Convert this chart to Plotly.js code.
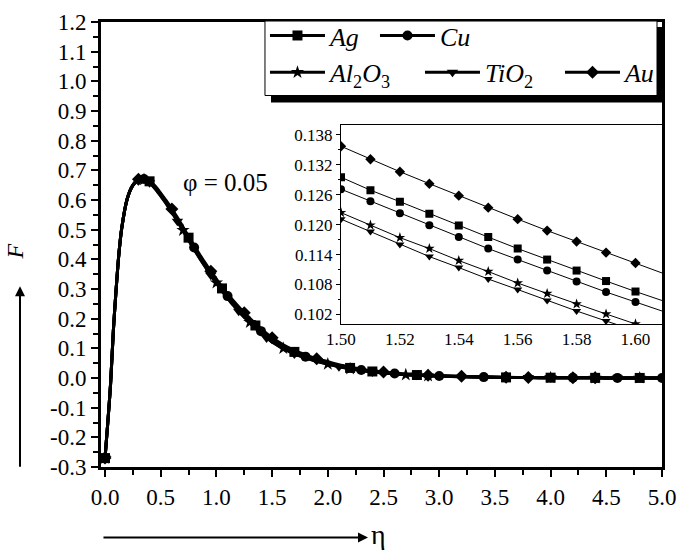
<!DOCTYPE html>
<html>
<head>
<meta charset="utf-8">
<script src="https://cdn.plot.ly/plotly-3.0.1.min.js"></script>
<style>html,body{margin:0;padding:0;background:#fff;}</style>
</head>
<body>
<div id="chart" style="width:682px;height:556px;"></div>
<script>
// ---------- DATA ----------
const seriesNames = ['<i>Ag</i>', '<i>Cu</i>', '<i>Al</i><sub>2</sub><i>O</i><sub>3</sub>', '<i>TiO</i><sub>2</sub>', '<i>Au</i>'];

const eta = [0, 0.025, 0.05, 0.075, 0.1, 0.125, 0.15, 0.2, 0.25, 0.3,
  0.35, 0.4, 0.45, 0.5, 0.55, 0.6, 0.65, 0.7, 0.75, 0.8,
  0.85, 0.9, 0.95, 1.0, 1.05, 1.1, 1.15, 1.2, 1.25, 1.3,
  1.35, 1.4, 1.45, 1.5, 1.6, 1.7, 1.8, 1.9, 2.0, 2.1,
  2.2, 2.3, 2.4, 2.5, 2.6, 2.7, 2.8, 2.9, 3.0, 3.2,
  3.4, 3.6, 3.8, 4.0, 4.2, 4.4, 4.6, 4.8, 5.0];

const fAg = [-0.270, -0.150, -0.020, 0.160, 0.300, 0.420, 0.505, 0.605, 0.650, 0.669,
  0.672, 0.663, 0.644, 0.620, 0.594, 0.567, 0.537, 0.505, 0.473, 0.442,
  0.412, 0.383, 0.355, 0.328, 0.302, 0.278, 0.255, 0.234, 0.214, 0.195,
  0.177, 0.160, 0.144, 0.1295, 0.1066, 0.088, 0.073, 0.061, 0.051, 0.042,
  0.034, 0.027, 0.022, 0.018, 0.015, 0.012, 0.010, 0.008, 0.007, 0.005,
  0.003, 0.002, 0.0015, 0.001, 0.0008, 0.0005, 0.0003, 0.0002, 0.0001];

const fCu = [-0.270, -0.150, -0.020, 0.160, 0.300, 0.420, 0.505, 0.605, 0.650, 0.669,
  0.671, 0.662, 0.643, 0.619, 0.593, 0.565, 0.535, 0.503, 0.471, 0.440,
  0.410, 0.381, 0.353, 0.326, 0.300, 0.276, 0.253, 0.232, 0.212, 0.193,
  0.175, 0.158, 0.142, 0.127, 0.1045, 0.086, 0.072, 0.060, 0.050, 0.041,
  0.033, 0.027, 0.022, 0.018, 0.015, 0.012, 0.010, 0.008, 0.007, 0.005,
  0.003, 0.002, 0.0015, 0.001, 0.0008, 0.0005, 0.0003, 0.0002, 0.0001];

const fAl = [-0.270, -0.150, -0.020, 0.160, 0.300, 0.420, 0.505, 0.604, 0.649, 0.668,
  0.669, 0.659, 0.639, 0.615, 0.589, 0.560, 0.530, 0.498, 0.466, 0.435,
  0.405, 0.376, 0.348, 0.321, 0.295, 0.271, 0.248, 0.227, 0.207, 0.188,
  0.170, 0.153, 0.137, 0.1224, 0.1001, 0.082, 0.068, 0.057, 0.047, 0.039,
  0.031, 0.026, 0.021, 0.017, 0.014, 0.011, 0.009, 0.0075, 0.0065, 0.0045,
  0.003, 0.002, 0.0014, 0.001, 0.0007, 0.0005, 0.0003, 0.0002, 0.0001];

const fTi = [-0.270, -0.150, -0.020, 0.160, 0.300, 0.420, 0.505, 0.604, 0.648, 0.667,
  0.668, 0.658, 0.638, 0.613, 0.587, 0.558, 0.528, 0.496, 0.464, 0.433,
  0.403, 0.374, 0.346, 0.319, 0.293, 0.269, 0.246, 0.225, 0.205, 0.186,
  0.168, 0.151, 0.135, 0.121, 0.0987, 0.081, 0.067, 0.056, 0.046, 0.038,
  0.031, 0.025, 0.020, 0.017, 0.014, 0.011, 0.009, 0.0075, 0.0065, 0.0045,
  0.003, 0.002, 0.0014, 0.001, 0.0007, 0.0005, 0.0003, 0.0002, 0.0001];

const fAu = [-0.270, -0.150, -0.020, 0.160, 0.300, 0.420, 0.505, 0.606, 0.651, 0.670,
  0.673, 0.665, 0.647, 0.623, 0.598, 0.570, 0.541, 0.509, 0.477, 0.446,
  0.416, 0.387, 0.360, 0.333, 0.307, 0.283, 0.261, 0.240, 0.220, 0.201,
  0.183, 0.166, 0.150, 0.1357, 0.1123, 0.093, 0.078, 0.065, 0.055, 0.045,
  0.036, 0.030, 0.024, 0.020, 0.016, 0.013, 0.011, 0.009, 0.0075, 0.0055,
  0.0035, 0.0022, 0.0016, 0.0011, 0.0008, 0.0005, 0.0003, 0.0002, 0.0001];

// indices (into eta) where each series shows a marker
const markAg = [0, 11, 18, 24, 30, 35, 40, 42, 46, 51, 53, 55, 57];
const markCu = [0, 10, 19, 25, 31, 36, 41, 44, 48, 50, 54, 56, 58];
const markAl = [0, 10, 17, 23, 29, 34, 38, 40, 45, 47, 53, 55, 57];
const markTi = [0, 11, 16, 22, 27, 32, 35, 39, 42, 46, 52, 53, 56];
const markAu = [0, 9, 15, 22, 28, 33, 37, 43, 47, 49, 51, 52, 54, 55];

// inset (zoom on 1.50 - 1.61)
const insetEta = [1.50, 1.51, 1.52, 1.53, 1.54, 1.55, 1.56, 1.57, 1.58, 1.59, 1.60, 1.61];
const insetAg = [0.1295, 0.1269, 0.1246, 0.1222, 0.1198, 0.1175, 0.1152, 0.1130, 0.1108, 0.1087, 0.1066, 0.1046];
const insetCu = [0.1271, 0.1247, 0.1223, 0.1199, 0.1175, 0.1152, 0.1130, 0.1108, 0.1086, 0.1065, 0.1045, 0.1025];
const insetAl = [0.1224, 0.1199, 0.1174, 0.1152, 0.1128, 0.1106, 0.1083, 0.1062, 0.1041, 0.1021, 0.1001, 0.0982];
const insetTi = [0.1211, 0.1186, 0.1160, 0.1136, 0.1114, 0.1091, 0.1070, 0.1048, 0.1027, 0.1007, 0.0987, 0.0968];
const insetAu = [0.1357, 0.1331, 0.1306, 0.1282, 0.1258, 0.1234, 0.1211, 0.1188, 0.1166, 0.1144, 0.1123, 0.1101];
const insetMark = [0, 1, 2, 3, 4, 5, 6, 7, 8, 9, 10];

const yTickVals = [-0.3, -0.2, -0.1, 0.0, 0.1, 0.2, 0.3, 0.4, 0.5, 0.6, 0.7, 0.8, 0.9, 1.0, 1.1, 1.2];
const yTickText = ['-0.3', '-0.2', '-0.1', '0.0', '0.1', '0.2', '0.3', '0.4', '0.5', '0.6', '0.7', '0.8', '0.9', '1.0', '1.1', '1.2'];

// ---------- TRACES ----------
const FONT = 'Liberation Serif';
const series = [
  {name: seriesNames[0], y: fAg, mark: markAg, inset: insetAg, symbol: 'square', legend: 'legend', lw: 40},
  {name: seriesNames[1], y: fCu, mark: markCu, inset: insetCu, symbol: 'circle', legend: 'legend', lw: 40},
  {name: seriesNames[2], y: fAl, mark: markAl, inset: insetAl, symbol: 'star', legend: 'legend2', lw: 85},
  {name: seriesNames[3], y: fTi, mark: markTi, inset: insetTi, symbol: 'triangle-down', legend: 'legend2', lw: 70},
  {name: seriesNames[4], y: fAu, mark: markAu, inset: insetAu, symbol: 'diamond', legend: 'legend2', lw: 40}
];

const traces = [];
series.forEach(s => {
  traces.push({
    type: 'scatter', mode: 'lines+markers', x: eta, y: s.y, name: s.name,
    legend: s.legend, legendwidth: s.lw,
    line: {color: 'black', width: 3, shape: 'spline', smoothing: 0.8},
    marker: {symbol: s.symbol, size: 10, color: 'black'},
    selectedpoints: s.mark, unselected: {marker: {opacity: 0}},
    xaxis: 'x', yaxis: 'y', hoverinfo: 'skip'
  });
});
series.forEach(s => {
  traces.push({
    type: 'scatter', mode: 'lines+markers', x: insetEta, y: s.inset, name: s.name,
    showlegend: false,
    line: {color: 'black', width: 1},
    marker: {symbol: s.symbol, size: 8, color: 'black'},
    selectedpoints: insetMark, unselected: {marker: {opacity: 0}},
    xaxis: 'x2', yaxis: 'y2', hoverinfo: 'skip'
  });
});

// ---------- LAYOUT ----------
const layout = {
  width: 682, height: 556,
  margin: {l: 101, r: 20, t: 19, b: 89, pad: 0},
  paper_bgcolor: 'white', plot_bgcolor: 'white',
  font: {family: FONT, size: 18, color: 'black'},
  showlegend: true,
  xaxis: {
    domain: [0, 1], anchor: 'y', range: [-0.036, 5.0],
    tick0: 0, dtick: 0.5, tickformat: '.1f',
    ticks: 'outside', ticklen: 7, tickwidth: 2, tickcolor: 'black',
    minor: {tick0: 0, dtick: 0.25, ticks: 'outside', ticklen: 5, tickwidth: 2, tickcolor: 'black', showgrid: false},
    showline: true, linewidth: 3, linecolor: 'black', mirror: true,
    showgrid: false, zeroline: false, tickfont: {family: FONT, size: 23, color: 'black'}
  },
  yaxis: {
    domain: [0, 1], anchor: 'x', range: [-0.3, 1.2],
    tickmode: 'array', tickvals: yTickVals, ticktext: yTickText,
    ticks: 'outside', ticklen: 7, tickwidth: 2, tickcolor: 'black',
    minor: {tick0: 0, dtick: 0.05, ticks: 'outside', ticklen: 5, tickwidth: 2, tickcolor: 'black', showgrid: false},
    showline: true, linewidth: 3, linecolor: 'black', mirror: true,
    showgrid: false, zeroline: false, tickfont: {family: FONT, size: 23, color: 'black'}
  },
  xaxis2: {
    domain: [0.4278, 1.0], anchor: 'y2', range: [1.5, 1.609],
    tick0: 1.5, dtick: 0.02, tickformat: '.2f', ticks: '',
    showline: true, linewidth: 1, linecolor: 'black', mirror: true,
    showgrid: false, zeroline: false, tickfont: {family: FONT, size: 17, color: 'black'}
  },
  yaxis2: {
    domain: [0.3214, 0.7679], anchor: 'x2', range: [0.1001, 0.1399],
    tick0: 0.102, dtick: 0.006, tickformat: '.3f',
    ticks: 'outside', ticklen: 4, tickwidth: 1, tickcolor: 'black',
    minor: {tick0: 0.102, dtick: 0.003, ticks: 'outside', ticklen: 2, tickwidth: 1, tickcolor: 'black', showgrid: false},
    showline: true, linewidth: 1, linecolor: 'black', mirror: true,
    showgrid: false, zeroline: false, tickfont: {family: FONT, size: 17, color: 'black'}
  },
  legend: {
    x: 0.2923, xanchor: 'left', y: 1.0223, yanchor: 'top', orientation: 'h',
    bgcolor: 'rgba(0,0,0,0)', borderwidth: 0, itemwidth: 55,
    font: {family: FONT, size: 26, color: 'black'}
  },
  legend2: {
    x: 0.2923, xanchor: 'left', y: 0.9397, yanchor: 'top', orientation: 'h',
    bgcolor: 'rgba(0,0,0,0)', borderwidth: 0, itemwidth: 55,
    font: {family: FONT, size: 26, color: 'black'}
  },
  shapes: [
    {type: 'rect', xref: 'paper', yref: 'paper', x0: 0.3030, x1: 1.0018, y0: 0.8192, y1: 0.9888,
      fillcolor: 'black', line: {width: 0}, layer: 'above'},
    {type: 'rect', xref: 'paper', yref: 'paper', x0: 0.2923, x1: 0.9911, y0: 0.8348, y1: 1.0022,
      fillcolor: 'white', line: {color: 'black', width: 1}, layer: 'above'}
  ],
  annotations: [
    {xref: 'paper', yref: 'paper', x: 0.2228, y: 0.6384, xanchor: 'center', yanchor: 'middle',
      text: 'φ = 0.05', showarrow: false, font: {family: FONT, size: 25, color: 'black'}},
    {xref: 'paper', yref: 'paper', x: -0.153, y: 0.4844, xanchor: 'center', yanchor: 'middle',
      text: '<i>F</i>', textangle: -90, showarrow: false, font: {family: FONT, size: 24, color: 'black'}},
    {xref: 'paper', yref: 'paper', x: -0.1444, y: 0.40625, text: '', showarrow: true,
      axref: 'pixel', ayref: 'pixel', ax: 0, ay: 182, arrowhead: 2, arrowsize: 1, arrowwidth: 2, arrowcolor: 'black'},
    {xref: 'paper', yref: 'paper', x: 0.4759, y: -0.1585, text: '', showarrow: true,
      axref: 'pixel', ayref: 'pixel', ax: -266, ay: 0, arrowhead: 2, arrowsize: 1, arrowwidth: 2, arrowcolor: 'black'},
    {xref: 'paper', yref: 'paper', x: 0.4938, y: -0.152, xanchor: 'center', yanchor: 'middle',
      text: 'η', showarrow: false, font: {family: FONT, size: 28, color: 'black'}}
  ]
};

Plotly.newPlot('chart', traces, layout, {staticPlot: true, displayModeBar: false});
</script>
</body>
</html>
